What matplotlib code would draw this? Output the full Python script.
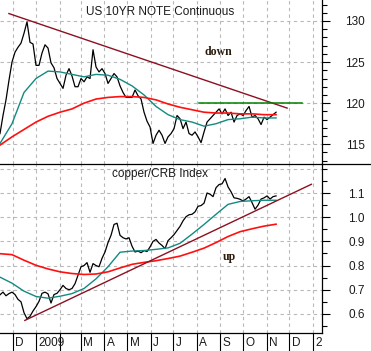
import matplotlib
matplotlib.use("Agg")
import matplotlib.pyplot as plt
import matplotlib.dates as mdates
import pandas as pd
from matplotlib.lines import Line2D
from matplotlib.ticker import MultipleLocator, FixedLocator, FormatStrFormatter
from matplotlib.transforms import ScaledTranslation, Bbox, TransformedBbox

plt.rcParams['font.family'] = ['Liberation Sans', 'DejaVu Sans']

# --- data (Nov 2008 - Nov 2009) ---
start = pd.Timestamp('2008-11-14 06:00')

note_close = [116.3, 118.5, 120.4, 122.8, 125.0, 126.2, 126.8, 127.3, 128.5, 129.9,
              127.4, 127.2, 124.6, 124.6, 126.1, 127.1, 126.7, 124.9, 124.3, 123.0,
              122.4, 121.8, 123.4, 124.2, 123.3, 122.0, 122.0, 123.0, 122.6, 123.2,
              123.0, 126.5, 124.4, 123.8, 124.2, 123.6, 122.4, 123.0, 123.6, 123.2,
              122.1, 121.3, 120.7, 120.7, 120.7, 121.6, 120.9, 120.5, 118.9, 117.8,
              117.1, 115.1, 116.1, 116.7, 116.1, 115.1, 115.9, 116.3, 116.9, 118.5,
              118.1, 116.9, 117.7, 116.3, 116.1, 116.5, 115.9, 115.2, 116.5, 117.7,
              118.1, 118.5, 118.9, 119.3, 118.7, 119.3, 118.5, 118.9, 117.7, 118.5,
              118.7, 118.5, 119.1, 119.6, 118.3, 118.5, 118.1, 117.4, 118.3, 118.0,
              118.3, 118.6, 118.9]
note_ma50 = [115.1, 117.5, 121.3, 123.0, 123.9, 123.8, 123.5, 123.2, 123.5, 123.4,
             122.9, 122.1, 121.0, 119.6, 118.6, 118.0, 117.7, 117.2, 117.5, 118.0,
             118.1, 118.3, 118.2, 118.2]
note_ma200 = [114.9, 115.9, 116.8, 117.7, 118.4, 118.9, 119.3, 120.0, 120.5, 120.7,
              120.8, 120.8, 120.7, 120.4, 119.9, 119.5, 119.2, 118.9, 118.8, 118.8,
              118.7, 118.7, 118.6, 118.6]

ratio_close = [0.679, 0.690, 0.675, 0.684, 0.690, 0.680, 0.660, 0.650, 0.605, 0.580,
               0.590, 0.612, 0.630, 0.652, 0.685, 0.690, 0.683, 0.645, 0.680, 0.685,
               0.700, 0.718, 0.705, 0.700, 0.705, 0.725, 0.760, 0.795, 0.800, 0.812,
               0.772, 0.808, 0.800, 0.795, 0.830, 0.856, 0.895, 0.925, 0.970, 0.975,
               0.925, 0.915, 0.910, 0.915, 0.880, 0.856, 0.860, 0.853, 0.862, 0.858,
               0.877, 0.900, 0.908, 0.893, 0.883, 0.870, 0.903, 0.915, 0.928, 0.945,
               0.962, 0.985, 1.002, 1.010, 1.012, 1.022, 1.045, 1.048, 1.058, 1.100,
               1.095, 1.085, 1.122, 1.135, 1.138, 1.160, 1.125, 1.105, 1.080, 1.078,
               1.074, 1.067, 1.075, 1.085, 1.060, 1.033, 1.050, 1.075, 1.080, 1.088,
               1.075, 1.085, 1.088]
ratio_ma50 = [0.752, 0.727, 0.694, 0.672, 0.665, 0.673, 0.684, 0.705, 0.745, 0.795,
              0.855, 0.860, 0.862, 0.867, 0.873, 0.892, 0.930, 0.970, 1.012, 1.053,
              1.065, 1.068, 1.070, 1.070]
ratio_ma200 = [0.849, 0.845, 0.822, 0.801, 0.786, 0.774, 0.767, 0.763, 0.765, 0.774,
               0.790, 0.805, 0.813, 0.820, 0.829, 0.839, 0.855, 0.872, 0.895, 0.920,
               0.940, 0.952, 0.963, 0.971]

# trend lines drawn on the chart
note_trend_dates = ['2008-11-26', '2009-11-28']
note_trend_vals = [130.9, 119.4]
note_level_dates = ['2009-08-04', '2009-12-18']
note_level_vals = [120.0, 120.0]
ratio_trend_dates = ['2008-12-17', '2009-12-30']
ratio_trend_vals = [0.573, 1.136]

month_dates = ['2008-11-01', '2008-12-01', '2009-01-01', '2009-03-01', '2009-04-01',
               '2009-05-01', '2009-06-01', '2009-07-01', '2009-08-01', '2009-09-01',
               '2009-10-01', '2009-11-01', '2009-12-01', '2010-01-01']
month_labels = ['N', 'D', '2009', 'M', 'A', 'M', 'J', 'J', 'A', 'S', 'O', 'N', 'D', '2010']

price_dates = pd.date_range(start, periods=len(note_close), freq='95h')
ma_dates = pd.date_range(start, periods=len(note_ma50), freq='380h')
xmin = start
xmax = pd.Timestamp('2010-01-13')

BLACK = '#000000'
TEAL = '#138a80'
RED = '#ff1010'
TREND = '#8b1020'
GREEN = '#008000'
GRID = '#b8b8b8'
TXT = '#1a1a1a'

fig = plt.figure(figsize=(3.71, 3.51), dpi=100)
ax1 = fig.add_axes([0, 0.5328, 0.8679, 0.4672])
ax2 = fig.add_axes([0, 0.0513, 0.8679, 0.4815])

for ax in (ax1, ax2):
    ax.set_xlim(xmin, xmax)
    ax.xaxis.set_major_locator(mdates.MonthLocator())
    ax.yaxis.tick_right()
    ax.grid(True, which='major', linestyle=(0, (3, 3)), color=GRID, linewidth=0.8)
    ax.spines['left'].set_visible(False)
    ax.spines['top'].set_visible(False)
    ax.spines['right'].set_linewidth(0.9)
    ax.tick_params(axis='y', which='major', direction='out', length=6, width=0.8,
                   pad=25, labelsize=8.5, labelcolor=TXT)
    ax.tick_params(axis='y', which='minor', direction='out', length=3.5, width=0.8)
    for lab in ax.get_yticklabels():
        lab.set_horizontalalignment('right')

# top panel: US 10yr note
ax1.plot(price_dates, note_close, color=BLACK, lw=0.9)
ax1.plot(ma_dates, note_ma50, color=TEAL, lw=1.0)
ax1.plot(ma_dates, note_ma200, color=RED, lw=1.2)
ax1.plot(pd.to_datetime(note_trend_dates), note_trend_vals, color=TREND, lw=1.0)
ax1.plot(pd.to_datetime(note_level_dates), note_level_vals, color=GREEN, lw=1.1)
ax1.set_ylim(112.6, 132.55)
ax1.yaxis.set_major_locator(FixedLocator([115, 120, 125, 130]))
ax1.yaxis.set_minor_locator(MultipleLocator(1))
ax1.spines['bottom'].set_visible(False)
ax1.tick_params(axis='x', length=0, labelbottom=False)
ax1.text(0.497, 0.927, 'US 10YR NOTE Continuous', transform=ax1.transAxes,
         ha='center', va='center', fontsize=8.5, color=TXT)
ax1.text(0.677, 0.683, 'down', transform=ax1.transAxes, ha='center', va='center',
         fontsize=8.5, fontweight='bold', family='Liberation Serif', color='#2a1a0a')
for lab in ax1.get_yticklabels():
    lab.set_horizontalalignment('right')

# bottom panel: copper / CRB ratio
ax2.plot(price_dates, ratio_close, color=BLACK, lw=0.9)
ax2.plot(ma_dates, ratio_ma50, color=TEAL, lw=1.0)
ax2.plot(ma_dates, ratio_ma200, color=RED, lw=1.2)
ax2.plot(pd.to_datetime(ratio_trend_dates), ratio_trend_vals, color=TREND, lw=1.0)
ax2.axhline(1.2, linestyle=(0, (3, 3)), color=GRID, linewidth=0.8)
ax2.set_ylim(0.521, 1.22)
ax2.yaxis.set_major_locator(FixedLocator([0.6, 0.7, 0.8, 0.9, 1.0, 1.1]))
ax2.yaxis.set_major_formatter(FormatStrFormatter('%.1f'))
ax2.yaxis.set_minor_locator(MultipleLocator(0.05))
ax2.spines['bottom'].set_linewidth(0.9)
ax2.tick_params(axis='x', direction='out', length=14, width=0.8, labelbottom=False)
ax2.text(0.497, 0.941, 'copper/CRB Index', transform=ax2.transAxes,
         ha='center', va='center', fontsize=8.5, color=TXT)
ax2.text(0.711, 0.45, 'up', transform=ax2.transAxes, ha='center', va='center',
         fontsize=8.5, fontweight='bold', family='Liberation Serif', color='#2a1a0a')
for lab in ax2.get_yticklabels():
    lab.set_horizontalalignment('right')

# month labels sit just right of each month tick
shift = ScaledTranslation(0.025, 0, fig.dpi_scale_trans)
clip = TransformedBbox(Bbox([[0, 0], [0.8679, 1]]), fig.transFigure)
xtrans = ax2.get_xaxis_transform() + shift
for d, s in zip(pd.to_datetime(month_dates), month_labels):
    t = ax2.text(d, -0.059, s, transform=xtrans, ha='left', va='center',
                 fontsize=8.5, color=TXT, clip_on=True)
    t.set_clip_box(clip)

# separator line across the whole width between the panels
fig.add_artist(Line2D([0, 1], [0.5328, 0.5328], transform=fig.transFigure,
                      color=BLACK, lw=0.9))

fig.savefig('out.png', dpi=100)
